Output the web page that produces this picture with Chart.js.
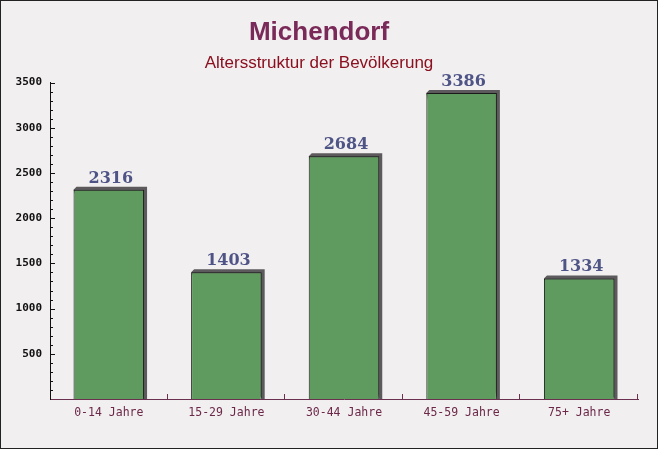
<!DOCTYPE html>
<html>
<head>
<meta charset="utf-8">
<script src="https://cdn.jsdelivr.net/npm/chart.js@4.4.1/dist/chart.umd.min.js"></script>
<style>
  html, body { margin: 0; padding: 0; background: #f2eff0; }
  #wrap { width: 658px; height: 449px; }
</style>
</head>
<body>
<div id="wrap"><canvas id="myChart" width="658" height="449"></canvas></div>
<script>
const categories = ['0-14 Jahre', '15-29 Jahre', '30-44 Jahre', '45-59 Jahre', '75+ Jahre'];
const residents = [2316, 1403, 2684, 3386, 1334];
const yTicks = [500, 1000, 1500, 2000, 2500, 3000, 3500];
const titleText = 'Michendorf';
const subtitleText = 'Altersstruktur der Bevölkerung';

// background, frame, shadows behind bars, little axis ticks, value labels
const decor = {
    id: 'decor',
    beforeDraw(chart) {
        const ctx = chart.ctx;
        ctx.save();
        ctx.fillStyle = '#f2eff0';
        ctx.fillRect(0, 0, chart.width, chart.height);
        ctx.restore();
    },
    beforeDatasetsDraw(chart) {
        const ctx = chart.ctx;
        const meta = chart.getDatasetMeta(0);
        ctx.save();
        ctx.fillStyle = '#5c5a5c';
        for (const bar of meta.data) {
            const left = bar.x - bar.width / 2;
            const top = bar.y;
            const d = 3;
            ctx.beginPath();
            ctx.moveTo(left + d, top - d);
            ctx.lineTo(left + bar.width + d, top - d);
            ctx.lineTo(left + bar.width + d, bar.base);
            ctx.lineTo(left + bar.width, bar.base);
            ctx.lineTo(left, top);
            ctx.closePath();
            ctx.fill();
        }
        ctx.restore();
    },
    afterDatasetsDraw(chart) {
        const ctx = chart.ctx;
        const area = chart.chartArea;
        const y = chart.scales.y;
        ctx.save();
        // y ticks point into the plot
        ctx.strokeStyle = '#111';
        ctx.lineWidth = 1;
        for (let v = 100; v <= y.max; v += 100) {
            const py = Math.round(y.getPixelForValue(v)) + 0.5;
            const len = v % 500 === 0 ? 5 : 3;
            ctx.beginPath();
            ctx.moveTo(area.left, py);
            ctx.lineTo(area.left + len, py);
            ctx.stroke();
        }
        // x ticks at category borders, pointing up
        ctx.strokeStyle = '#6b3050';
        const step = (area.right - area.left) / categories.length;
        for (let i = 1; i <= categories.length; i++) {
            const px = Math.round(area.left + step * i) - 0.5;
            ctx.beginPath();
            ctx.moveTo(px, area.bottom);
            ctx.lineTo(px, area.bottom - 5);
            ctx.stroke();
        }
        // values above bars
        const meta = chart.getDatasetMeta(0);
        ctx.fillStyle = '#4f5486';
        ctx.font = 'bold 16px "DejaVu Serif"';
        ctx.textAlign = 'center';
        ctx.textBaseline = 'alphabetic';
        meta.data.forEach((bar, i) => {
            ctx.fillText(String(residents[i]), bar.x + 2, bar.y - 7);
        });
        ctx.restore();
    },
    afterDraw(chart) {
        const ctx = chart.ctx;
        ctx.save();
        ctx.strokeStyle = '#222';
        ctx.lineWidth = 1;
        ctx.strokeRect(0.5, 0.5, chart.width - 1, chart.height - 1);
        ctx.restore();
    }
};

const data = {
    labels: categories,
    datasets: [{
        data: residents,
        backgroundColor: '#5f9b5f',
        borderColor: '#1a1a1a',
        borderWidth: 1,
        borderSkipped: 'bottom',
        categoryPercentage: 1,
        barPercentage: 0.6
    }]
};

const myChart = new Chart(document.getElementById('myChart'), {
    type: 'bar',
    data: data,
    options: {
        responsive: false,
        animation: false,
        devicePixelRatio: 1,
        layout: { padding: { left: 0, right: 20, top: 0, bottom: 0 } },
        plugins: {
            legend: false,
            tooltip: false,
            title: {
                display: true,
                text: titleText,
                color: '#7a2a58',
                font: { family: 'Liberation Sans', weight: 'bold', size: 26 },
                padding: { top: 17, bottom: 0 }
            },
            subtitle: {
                display: true,
                text: subtitleText,
                color: '#8b1020',
                font: { family: 'Liberation Sans', size: 17 },
                padding: { top: 5, bottom: 9 }
            }
        },
        scales: {
            x: {
                grid: { display: false, drawTicks: false },
                border: { display: true, color: '#6b3050', width: 1 },
                ticks: {
                    color: '#6b2848',
                    font: { family: 'DejaVu Sans Mono', size: 11.5 },
                    padding: 7,
                    maxRotation: 0
                },
                afterFit: s => { s.height = 50; }
            },
            y: {
                min: 0,
                max: 3500,
                afterBuildTicks: s => { s.ticks = yTicks.map(v => ({ value: v })); },
                grid: { display: false, drawTicks: false },
                border: { display: true, color: '#111', width: 1 },
                ticks: {
                    color: '#111',
                    font: { family: 'DejaVu Sans Mono', weight: 'bold', size: 11 },
                    padding: 8,
                    callback: v => String(v)
                },
                afterFit: s => { s.width = 50; }
            }
        }
    },
    plugins: [decor]
});
</script>
</body>
</html>
